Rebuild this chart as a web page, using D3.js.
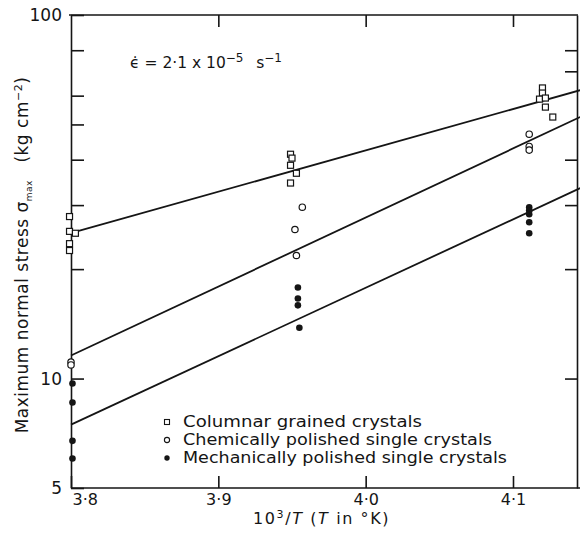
<!DOCTYPE html>
<html>
<head>
<meta charset="utf-8">
<script src="https://cdn.jsdelivr.net/npm/d3@7"></script>
<style>
  html, body { margin: 0; padding: 0; background: #fff; }
  svg { display: block; }
  text { font-family: "DejaVu Sans", "Open Sans", sans-serif; fill: #151515; }
</style>
</head>
<body>
<svg id="chart" width="580" height="533"></svg>
<script>
// 10^3/T versus maximum normal stress (kg cm^-2)
const columnar = [
  [3.799, 27.9], [3.799, 25.4], [3.803, 25.1], [3.799, 23.5], [3.799, 22.5],
  [3.949, 41.4], [3.950, 40.4], [3.949, 38.6], [3.953, 36.7], [3.949, 34.5],
  [4.120, 63.0], [4.120, 61.0], [4.118, 58.7], [4.122, 59.1], [4.122, 55.8], [4.127, 52.4]
];
const chemical = [
  [3.800, 11.1], [3.800, 10.9],
  [3.957, 29.6], [3.952, 25.7], [3.953, 21.8],
  [4.111, 47.0], [4.111, 43.5], [4.111, 42.5]
];
const mechanical = [
  [3.801, 9.69], [3.801, 8.59], [3.801, 6.74], [3.801, 6.03],
  [3.954, 17.8], [3.954, 16.6], [3.954, 15.9], [3.955, 13.8],
  [4.111, 29.6], [4.111, 29.0], [4.111, 28.3], [4.111, 26.9], [4.111, 25.1]
];
const columnarFit = [[3.804, 25.4], [4.1456, 62.1]];
const chemicalFit = [[3.800, 11.57], [4.1456, 52.4]];
const mechanicalFit = [[3.800, 7.47], [4.1456, 33.4]];

const xTicks = [3.8, 3.9, 4.0, 4.1];
const yTicksLeft = [5, 10, 20, 30, 40, 50, 60, 80, 100];
const yTicksRight = [10, 20, 30, 40, 70, 80];
const yLabelled = [5, 10, 100];
const legendLabels = [
  'Columnar grained crystals',
  'Chemically polished single crystals',
  'Mechanically polished single crystals'
];

const svg = d3.select('#chart');
const ink = '#151515';

const x = d3.scaleLinear()
  .domain([3.8, 4.1])
  .range([71, 513]);

const y = d3.scaleLog()
  .domain([5, 100])
  .range([488, 15]);

const fmt = d => d.toFixed(1).replace('.', '·');

// frame
const bottomAxis = svg.append('g')
  .attr('transform', `translate(0,${y(5)})`)
  .call(d3.axisBottom(x).tickValues(xTicks).tickSizeInner(-12).tickSizeOuter(0).tickPadding(6).tickFormat(fmt));
bottomAxis.select('.domain').attr('d', `M${x(3.8)},0H580`);

const topAxis = svg.append('g')
  .attr('transform', `translate(0,${y(100)})`)
  .call(d3.axisTop(x).tickValues(xTicks.slice(1)).tickSizeInner(-12).tickSizeOuter(0).tickFormat(''));
topAxis.select('.domain').attr('d', `M${x(3.8) - 2},0H578`);

const leftAxis = svg.append('g')
  .attr('transform', `translate(${x(3.8)},0)`)
  .call(d3.axisLeft(y).tickValues(yTicksLeft).tickSizeInner(-13).tickSizeOuter(0).tickPadding(9)
    .tickFormat(d => yLabelled.includes(d) ? d : ''));

const rightAxis = svg.append('g')
  .attr('transform', 'translate(577,0)')
  .call(d3.axisRight(y).tickValues(yTicksRight).tickSizeInner(-12).tickSizeOuter(0).tickFormat(''));

svg.selectAll('.domain, .tick line')
  .attr('stroke', ink)
  .attr('stroke-width', 1.6);

svg.selectAll('.tick text')
  .attr('fill', ink)
  .style('font-size', '17px');

bottomAxis.selectAll('.tick text')
  .style('font-size', '16px')
  .filter(d => d === 3.8)
  .attr('text-anchor', 'start')
  .attr('x', 1);

// fitted lines
const line = d3.line()
  .x(d => x(d[0]))
  .y(d => y(d[1]));

svg.append('g')
  .selectAll('path')
  .data([columnarFit, chemicalFit, mechanicalFit])
  .join('path')
  .attr('fill', 'none')
  .attr('stroke', ink)
  .attr('stroke-width', 1.8)
  .attr('d', line);

// markers
const marks = svg.append('g');

marks.selectAll('rect.columnar')
  .data(columnar)
  .join('rect')
  .attr('class', 'columnar')
  .attr('x', d => x(d[0]) - 3)
  .attr('y', d => y(d[1]) - 3)
  .attr('width', 6)
  .attr('height', 6)
  .attr('fill', '#fff')
  .attr('stroke', ink)
  .attr('stroke-width', 1.2);

marks.selectAll('circle.chemical')
  .data(chemical)
  .join('circle')
  .attr('class', 'chemical')
  .attr('cx', d => x(d[0]))
  .attr('cy', d => y(d[1]))
  .attr('r', 3.2)
  .attr('fill', '#fff')
  .attr('stroke', ink)
  .attr('stroke-width', 1.2);

marks.selectAll('circle.mechanical')
  .data(mechanical)
  .join('circle')
  .attr('class', 'mechanical')
  .attr('cx', d => x(d[0]))
  .attr('cy', d => y(d[1]))
  .attr('r', 3.3)
  .attr('fill', ink);

// legend
const legend = svg.append('g')
  .attr('transform', 'translate(167,422)');

const rows = legend.selectAll('g')
  .data(legendLabels)
  .join('g')
  .attr('transform', (d, i) => `translate(0,${i * 18})`);

rows.filter((d, i) => i === 0).append('rect')
  .attr('x', -2.5).attr('y', -2.5).attr('width', 5).attr('height', 5)
  .attr('fill', 'none').attr('stroke', ink).attr('stroke-width', 1.1);
rows.filter((d, i) => i === 1).append('circle')
  .attr('r', 2.6).attr('fill', 'none').attr('stroke', ink).attr('stroke-width', 1.1);
rows.filter((d, i) => i === 2).append('circle')
  .attr('r', 2.7).attr('fill', ink);

const legendWidths = [239, 309, 324];
rows.append('text')
  .attr('x', 16)
  .attr('y', 5)
  .attr('textLength', (d, i) => legendWidths[i])
  .attr('lengthAdjust', 'spacingAndGlyphs')
  .style('font-size', '15px')
  .text(d => d);

// strain rate note
const note = svg.append('text')
  .attr('x', 130)
  .attr('y', 68)
  .style('font-size', '15.5px');
note.append('tspan').text('ϵ̇ = 2·1 x 10');
note.append('tspan').attr('dy', -6).style('font-size', '12px').text('−5');
note.append('tspan').attr('dy', 6).text('\u2002 s');
note.append('tspan').attr('dy', -6).style('font-size', '12px').text('−1');

// axis titles
const xTitle = svg.append('text')
  .attr('x', 253)
  .attr('y', 524)
  .style('font-size', '16px')
  .style('letter-spacing', '1.6px');
xTitle.append('tspan').text('10');
xTitle.append('tspan').attr('dy', -6).style('font-size', '11px').text('3');
xTitle.append('tspan').attr('dy', 6).text('/');
xTitle.append('tspan').style('font-style', 'italic').text('T');
xTitle.append('tspan').text(' (');
xTitle.append('tspan').style('font-style', 'italic').text('T');
xTitle.append('tspan').text(' in °K)');

const yTitle = svg.append('text')
  .attr('transform', 'translate(28,255) rotate(-90)')
  .attr('text-anchor', 'middle')
  .style('font-size', '17px')
  .style('letter-spacing', '0.5px');
yTitle.append('tspan').text('Maximum normal stress σ');
yTitle.append('tspan').attr('dy', 4).style('font-size', '9px').text('max');
yTitle.append('tspan').attr('dy', -4).text('\u2003(kg cm');
yTitle.append('tspan').attr('dy', -6).style('font-size', '11px').text('−2');
yTitle.append('tspan').attr('dy', 6).text(')');
</script>
</body>
</html>
